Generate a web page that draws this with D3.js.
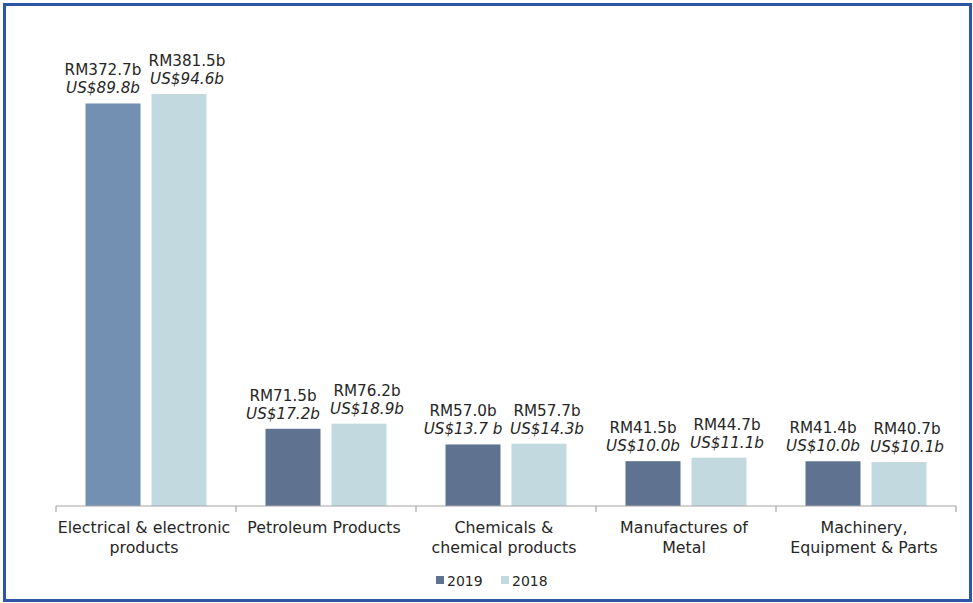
<!DOCTYPE html>
<html>
<head>
<meta charset="utf-8">
<script src="https://cdn.jsdelivr.net/npm/d3@7"></script>
<style>
  html, body { margin: 0; padding: 0; background: #fff; }
  svg { display: block; }
  text { font-family: "DejaVu Sans", sans-serif; fill: #262626; }
</style>
</head>
<body>
<svg id="chart" width="973" height="603"></svg>
<script>
// ---- data ----
const categories = [
  ["Electrical & electronic", "products"],
  ["Petroleum Products"],
  ["Chemicals &", "chemical products"],
  ["Manufactures of", "Metal"],
  ["Machinery,", "Equipment & Parts"]
];
const seriesNames = ["2019", "2018"];
const values2019 = [372.7, 71.5, 57.0, 41.5, 41.4];
const values2018 = [381.5, 76.2, 57.7, 44.7, 40.7];
const rmLabels2019 = ["RM372.7b", "RM71.5b", "RM57.0b", "RM41.5b", "RM41.4b"];
const rmLabels2018 = ["RM381.5b", "RM76.2b", "RM57.7b", "RM44.7b", "RM40.7b"];
const usLabels2019 = ["US$89.8b", "US$17.2b", "US$13.7 b", "US$10.0b", "US$10.0b"];
const usLabels2018 = ["US$94.6b", "US$18.9b", "US$14.3b", "US$11.1b", "US$10.1b"];
const yDomain = [0, 450];

// ---- styles ----
const color2019 = "#5F7390";
const color2019First = "#7390B2";
const color2018 = "#C3D9E0";
const labelSize = 15.2;
const catSize = 15.8;
const legendSize = 14;

const svg = d3.select("#chart");

// frame
svg.append("rect")
  .attr("x", 4.5).attr("y", 4.5)
  .attr("width", 966).attr("height", 596)
  .attr("fill", "#fff")
  .attr("stroke", "#2E56A5")
  .attr("stroke-width", 3);

const x0 = d3.scaleBand()
  .domain(d3.range(categories.length))
  .range([56, 956])
  .paddingInner(0).paddingOuter(0);

const x1 = d3.scaleBand()
  .domain(seriesNames)
  .range([0, x0.bandwidth()])
  .paddingInner(1 / 6)
  .paddingOuter(0.447);

const y = d3.scaleLinear().domain(yDomain).range([506, 20]);

const rows = categories.map((c, i) => ({
  i,
  bars: [
    { s: "2019", v: values2019[i], rm: rmLabels2019[i], us: usLabels2019[i], dx: -10 },
    { s: "2018", v: values2018[i], rm: rmLabels2018[i], us: usLabels2018[i], dx: 8 }
  ]
}));

const groups = svg.append("g").selectAll("g")
  .data(rows).join("g")
  .attr("transform", d => `translate(${x0(d.i)},0)`);

groups.selectAll("rect")
  .data(d => d.bars.map(b => ({ ...b, i: d.i })))
  .join("rect")
  .attr("x", b => x1(b.s))
  .attr("width", x1.bandwidth())
  .attr("y", b => y(b.v))
  .attr("height", b => y(0) - y(b.v))
  .attr("fill", b => b.s === "2019" ? (b.i === 0 ? color2019First : color2019) : color2018);

const lbl = groups.selectAll("g.lbl")
  .data(d => d.bars.map(b => ({ ...b, i: d.i })))
  .join("g").attr("class", "lbl")
  .attr("transform", b => `translate(${x1(b.s) + x1.bandwidth() / 2 + b.dx},${y(b.v)})`);

lbl.append("text")
  .attr("text-anchor", "middle")
  .attr("y", -28)
  .style("font-size", labelSize + "px")
  .text(b => b.rm);

lbl.append("text")
  .attr("text-anchor", "middle")
  .attr("y", -10)
  .style("font-size", labelSize + "px")
  .style("font-style", "italic")
  .text(b => b.us);

// axis
const axisG = svg.append("g").attr("transform", `translate(0,${y(0)})`);
axisG.append("line")
  .attr("x1", 56).attr("x2", 956)
  .attr("stroke", "#A6A6A6").attr("stroke-width", 1.2);
axisG.selectAll("line.tick")
  .data(d3.range(categories.length + 1))
  .join("line").attr("class", "tick")
  .attr("x1", i => i < categories.length ? x0(i) : x0.range()[1])
  .attr("x2", i => i < categories.length ? x0(i) : x0.range()[1])
  .attr("y1", 0).attr("y2", 6)
  .attr("stroke", "#A6A6A6").attr("stroke-width", 1.2);

const catText = axisG.selectAll("text.cat")
  .data(categories).join("text").attr("class", "cat")
  .attr("text-anchor", "middle")
  .attr("transform", (d, i) => `translate(${x0(i) + x0.bandwidth() / 2 - 2},0)`)
  .style("font-size", catSize + "px");
catText.selectAll("tspan")
  .data(d => d).join("tspan")
  .attr("x", 0)
  .attr("y", (d, k) => 27 + k * 20)
  .text(d => d);

// legend
const legend = svg.append("g").attr("transform", "translate(436,586)");
const legendItems = [
  { name: seriesNames[0], color: color2019, x: 0 },
  { name: seriesNames[1], color: color2018, x: 65 }
];
const li = legend.selectAll("g").data(legendItems).join("g")
  .attr("transform", d => `translate(${d.x},0)`);
li.append("rect").attr("x", 0).attr("y", -10).attr("width", 8).attr("height", 8)
  .attr("fill", d => d.color);
li.append("text").attr("x", 11).attr("y", 0)
  .style("font-size", legendSize + "px")
  .text(d => d.name);
</script>
</body>
</html>
